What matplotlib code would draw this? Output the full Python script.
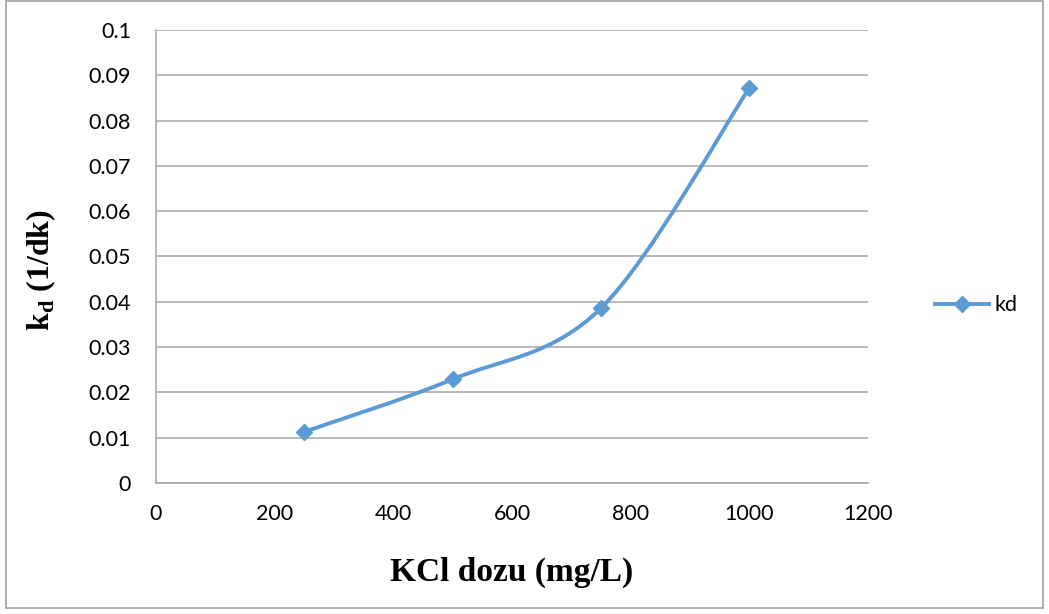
"""KCl dose vs kd chart, Excel smoothed-line style."""

import matplotlib

matplotlib.use("Agg")

import matplotlib.pyplot as plt  # noqa: E402
import matplotlib.ticker as mticker  # noqa: E402
from matplotlib.lines import Line2D  # noqa: E402
from matplotlib.patches import PathPatch, Rectangle  # noqa: E402
from matplotlib.path import Path  # noqa: E402

# -- data ---------------------------------------------------------------------
kcl_dose = [250, 500, 750, 1000]
kd_values = [0.0113, 0.0229, 0.0386, 0.0872]
series_name = "kd"

x_ticks = [0, 200, 400, 600, 800, 1000, 1200]
y_ticks = [0, 0.01, 0.02, 0.03, 0.04, 0.05, 0.06, 0.07, 0.08, 0.09, 0.1]

LINE_COLOR = "#5b9bd5"
GRID_COLOR = "#a6a6a6"
TICK_FONT = "Lato"
LABEL_FONT = "Liberation Serif"


def _smooth_path(xs, ys):
    """Catmull-Rom style cubic Bezier through the points (Excel smoothing)."""
    pts = list(zip(xs, ys))
    n = len(pts)
    verts = [pts[0]]
    codes = [Path.MOVETO]
    for i in range(n - 1):
        p0 = pts[max(i - 1, 0)]
        p1 = pts[i]
        p2 = pts[i + 1]
        p3 = pts[min(i + 2, n - 1)]
        c1 = (p1[0] + (p2[0] - p0[0]) / 6, p1[1] + (p2[1] - p0[1]) / 6)
        c2 = (p2[0] - (p3[0] - p1[0]) / 6, p2[1] - (p3[1] - p1[1]) / 6)
        verts += [c1, c2, p2]
        codes += [Path.CURVE4] * 3
    return Path(verts, codes)


fig = plt.figure(figsize=(10.49, 6.14), dpi=100)
fig.patch.set_facecolor("white")
ax = fig.add_axes([0.1487, 0.2134, 0.6788, 0.7377])

# outer chart border
fig.patches.append(
    Rectangle((6 / 1049, 6 / 614), 1037 / 1049, 607 / 614, transform=fig.transFigure,
              fill=False, edgecolor="#a0a0a0", linewidth=1.2)
)

ax.add_patch(PathPatch(_smooth_path(kcl_dose, kd_values), facecolor="none",
                       edgecolor=LINE_COLOR, linewidth=2.8, zorder=3,
                       capstyle="round"))
ax.plot(kcl_dose, kd_values, linestyle="none", marker="D", markersize=8.5,
        color=LINE_COLOR, zorder=4)

ax.set_xlim(0, 1200)
ax.set_ylim(0, 0.1)
ax.set_xticks(x_ticks)
ax.set_yticks(y_ticks)
ax.yaxis.set_major_formatter(mticker.FuncFormatter(lambda v, p: f"{v:g}"))
ax.tick_params(length=0, labelsize=15.5)
ax.tick_params(axis="x", pad=15)
ax.tick_params(axis="y", pad=18)
for lab in ax.get_xticklabels() + ax.get_yticklabels():
    lab.set_fontfamily(TICK_FONT)

ax.grid(axis="y", color=GRID_COLOR, linewidth=1.1)
ax.set_axisbelow(True)
for side in ("top", "right"):
    ax.spines[side].set_visible(False)
for side in ("left", "bottom"):
    ax.spines[side].set_color(GRID_COLOR)
    ax.spines[side].set_linewidth(1.1)

ax.set_xlabel("KCl dozu (mg/L)", fontsize=24, fontweight="bold",
              fontfamily=LABEL_FONT, labelpad=24)
ax.set_ylabel(r"k$_\mathregular{d}$ (1/dk)", fontsize=23, fontweight="bold",
              fontfamily=LABEL_FONT)
ax.yaxis.set_label_coords(-0.137, 0.47)

handle = Line2D([], [], color=LINE_COLOR, linewidth=2.8, marker="D",
                markersize=8.5)
leg = fig.legend([handle], [series_name], loc="center left",
                 bbox_to_anchor=(0.873, 0.503), frameon=False,
                 handlelength=2.5, handletextpad=0.25,
                 prop={"family": TICK_FONT, "size": 15.5})

fig.savefig("out.png", dpi=100, facecolor="white")
